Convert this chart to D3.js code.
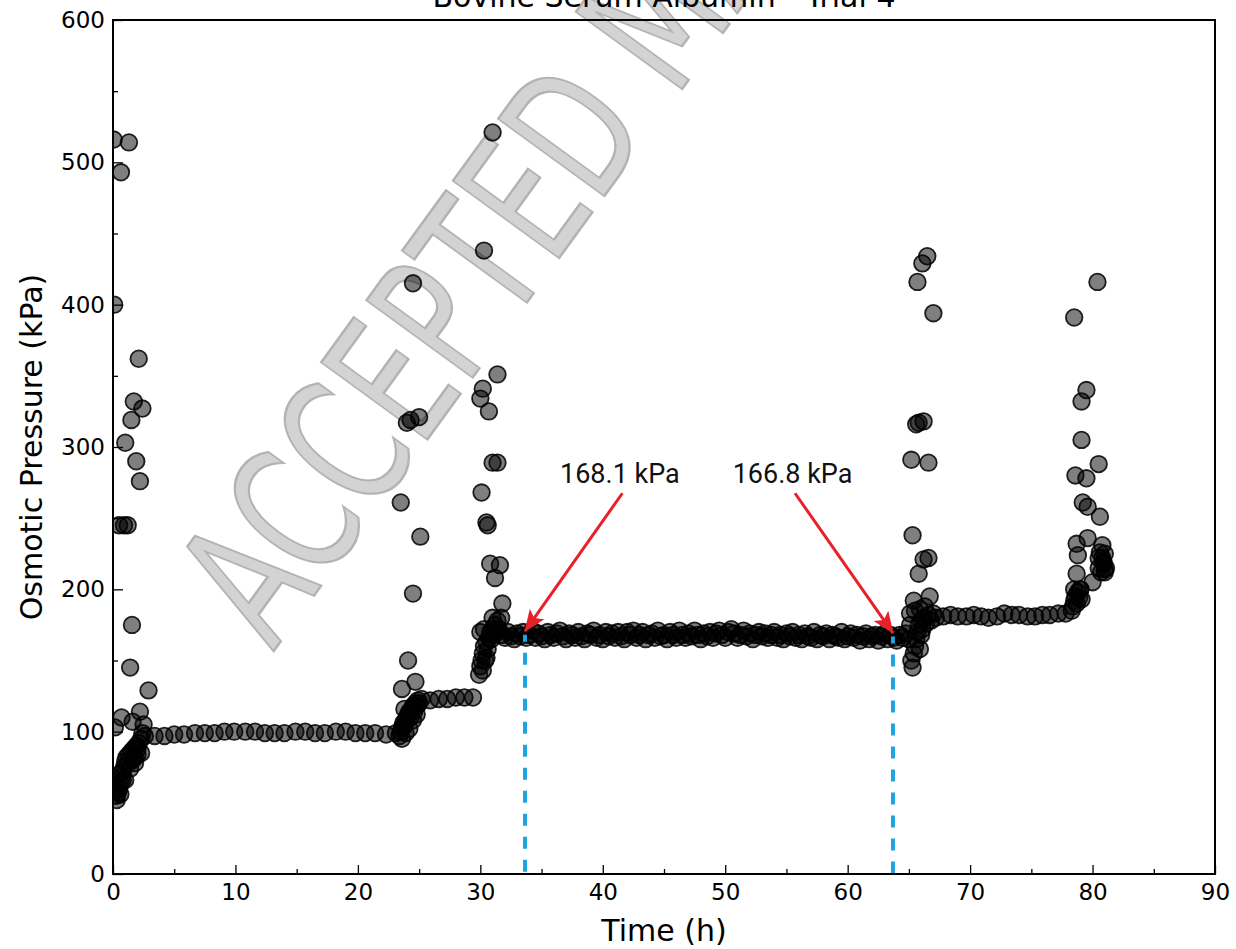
<!DOCTYPE html>
<html>
<head>
<meta charset="utf-8">
<script src="https://cdn.jsdelivr.net/npm/d3@7"></script>
<style>
  html, body { margin: 0; padding: 0; background: #fff; }
  svg { display: block; }
</style>
</head>
<body>
<svg id="chart" width="1236" height="949"></svg>
<script>
// ---------------- DATA ----------------
const chartTitle = "Bovine Serum Albumin - Trial 4";
const xLabel = "Time (h)";
const yLabel = "Osmotic Pressure (kPa)";
const xTicks = [0, 10, 20, 30, 40, 50, 60, 70, 80, 90];
const xMinorTicks = [5, 15, 25, 35, 45, 55, 65, 75, 85];
const yTicks = [0, 100, 200, 300, 400, 500, 600];
const yMinorTicks = [50, 150, 250, 350, 450, 550];

// phase 1: start-up transient (0-3 h)
const startTime = [0.05, 1.3, 0.65, 0.1, 2.1, 1.7, 2.4, 1.5, 1.0, 1.9, 2.2, 0.5, 0.9, 1.2, 1.55, 1.4, 2.9, 0.15, 0.7, 1.6, 2.2, 2.5,
  0.2, 0.3, 0.4, 0.5, 0.6, 0.7, 0.8, 0.9, 1.0, 1.1, 1.3, 1.5, 1.7, 1.9, 2.0, 2.1, 2.3, 0.5, 0.8, 1.2, 1.6, 2.0, 2.3, 2.6, 1.8, 2.4,
  0.3, 0.6, 1.0, 1.4, 1.8];
const startPressure = [516, 514, 493, 400, 362, 332, 327, 319, 303, 290, 276, 245, 245, 245, 175, 145, 129, 103, 110, 107, 114, 105,
  58, 55, 57, 60, 64, 68, 72, 75, 79, 82, 84, 86, 88, 90, 84, 92, 95, 70, 66, 78, 80, 88, 85, 97, 82, 99,
  52, 56, 66, 74, 78];

// plateau 1 (~100 kPa)
const plateau1Time = [3.4, 4.2, 5.0, 5.8, 6.7, 7.5, 8.3, 9.1, 9.9, 10.8, 11.6, 12.4, 13.2, 14.0, 14.9, 15.7, 16.5, 17.3, 18.2, 19.0, 19.8, 20.6, 21.4, 22.3, 23.1];
const plateau1Pressure = [97, 97, 98, 98, 99, 99, 99, 100, 100, 100, 100, 99, 99, 99, 100, 100, 99, 99, 100, 100, 99, 99, 99, 98, 99];

// step 1 (23-25 h)
const step1Time = [23.5, 24.3, 24.0, 25.0, 24.5, 24.5, 25.1, 24.1, 24.7, 23.6, 23.8,
  23.4, 23.5, 23.6, 23.7, 23.8, 23.9, 24.0, 24.1, 24.2, 24.3, 24.4, 24.5, 24.6, 24.7, 24.8, 24.9, 25.0, 23.6, 23.9, 24.2, 24.5, 24.8, 25.2];
const step1Pressure = [261, 319, 317, 321, 415, 197, 237, 150, 135, 130, 116,
  97, 100, 103, 106, 104, 108, 110, 112, 114, 110, 116, 118, 114, 120, 118, 122, 120, 95, 99, 102, 108, 112, 123];

// plateau 2 (~124 kPa)
const plateau2Time = [25.9, 26.6, 27.3, 28.0, 28.7, 29.4];
const plateau2Pressure = [122, 123, 123, 124, 124, 124];

// step 2 (30-32 h)
const step2Time = [31.0, 30.3, 31.4, 30.2, 30.0, 30.7, 31.4, 31.0, 30.1, 30.5, 30.6, 30.8, 31.6, 31.2, 31.8, 31.7,
  29.9, 30.0, 30.1, 30.2, 30.3, 30.4, 30.5, 30.6, 30.7, 30.8, 30.9, 31.0, 31.1, 31.2, 31.3, 31.4, 31.5, 30.2, 30.5, 30.0, 30.3, 31.0];
const step2Pressure = [521, 438, 351, 341, 334, 325, 289, 289, 268, 247, 245, 218, 217, 208, 190, 180,
  140, 146, 150, 155, 160, 150, 163, 158, 166, 170, 165, 172, 168, 175, 170, 178, 172, 143, 152, 170, 172, 180];

// plateau 3 (main, ~168 kPa)
const plateau3Time = [
  31.5, 31.75, 32, 32.25, 32.5, 32.75, 33, 33.25, 33.5, 33.75,
  34, 34.25, 34.5, 34.75, 35, 35.25, 35.5, 35.75, 36, 36.25,
  36.5, 36.75, 37, 37.25, 37.5, 37.75, 38, 38.25, 38.5, 38.75,
  39, 39.25, 39.5, 39.75, 40, 40.25, 40.5, 40.75, 41, 41.25,
  41.5, 41.75, 42, 42.25, 42.5, 42.75, 43, 43.25, 43.5, 43.75,
  44, 44.25, 44.5, 44.75, 45, 45.25, 45.5, 45.75, 46, 46.25,
  46.5, 46.75, 47, 47.25, 47.5, 47.75, 48, 48.25, 48.5, 48.75,
  49, 49.25, 49.5, 49.75, 50, 50.25, 50.5, 50.75, 51, 51.25,
  51.5, 51.75, 52, 52.25, 52.5, 52.75, 53, 53.25, 53.5, 53.75,
  54, 54.25, 54.5, 54.75, 55, 55.25, 55.5, 55.75, 56, 56.25,
  56.5, 56.75, 57, 57.25, 57.5, 57.75, 58, 58.25, 58.5, 58.75,
  59, 59.25, 59.5, 59.75, 60, 60.25, 60.5, 60.75, 61, 61.25,
  61.5, 61.75, 62, 62.25, 62.5, 62.75, 63, 63.25, 63.5, 63.75,
  64, 64.25, 64.5, 64.75, 65];
const plateau3Pressure = [
  171, 168, 166, 170, 167, 165, 169, 167, 170, 166,
  168, 171, 166, 169, 167, 165, 170, 168, 166, 169,
  171, 167, 165, 169, 168, 166, 170, 167, 165, 169,
  168, 171, 166, 168, 165, 170, 167, 169, 166, 170,
  167, 165, 170, 168, 171, 166, 168, 170, 165, 168,
  169, 166, 171, 167, 168, 165, 170, 168, 166, 171,
  168, 166, 169, 167, 171, 168, 165, 169, 167, 170,
  166, 169, 171, 168, 166, 170, 172, 169, 166, 168,
  171, 167, 169, 165, 168, 170, 167, 169, 166, 168,
  170, 166, 168, 165, 169, 167, 170, 166, 168, 165,
  169, 167, 166, 170, 165, 168, 167, 169, 165, 168,
  167, 166, 170, 165, 167, 169, 166, 168, 164, 167,
  169, 165, 167, 168, 164, 167, 169, 165, 168, 166,
  164, 168, 166, 169, 165];

// step 3 (65-68 h)
const step3Time = [66.5, 66.1, 65.7, 67.0, 65.8, 66.2, 65.6, 65.2, 66.6, 65.3, 66.6, 66.2, 65.8, 65.4, 66.7, 65.1,
  65.3, 65.2, 65.4, 65.5, 65.6, 65.7, 65.8, 66.0, 66.2, 66.4, 66.6, 66.8, 67.0, 67.2, 65.1, 65.5, 65.9, 66.3, 66.0, 65.9, 66.1];
const step3Pressure = [434, 429, 416, 394, 317, 318, 316, 291, 289, 238, 222, 221, 211, 192, 195, 183,
  145, 150, 155, 160, 165, 170, 175, 178, 180, 176, 182, 178, 183, 180, 175, 185, 186, 188, 168, 158, 172];

// plateau 4 (~181 kPa)
const plateau4Time = [67.8, 68.4, 69.0, 69.7, 70.3, 70.9, 71.5, 72.2, 72.8, 73.4, 74.0, 74.7, 75.3, 75.9, 76.5, 77.2, 77.8];
const plateau4Pressure = [181, 182, 181, 181, 182, 181, 180, 181, 183, 182, 182, 181, 181, 182, 182, 183, 183];

// step 4 (78-81 h)
const step4Time = [80.4, 78.5, 79.5, 79.1, 79.1, 80.5, 78.6, 79.5, 79.2, 79.6, 80.6, 78.7, 79.6, 80.8, 78.8, 80.9, 81.0, 80.5, 78.7, 79.0, 79.1, 80.0,
  78.3, 78.4, 78.5, 78.6, 78.7, 78.8, 78.9, 79.0, 78.5, 80.5, 80.7, 80.9, 81.0, 81.1, 80.8, 81.0, 80.6];
const step4Pressure = [416, 391, 340, 332, 305, 288, 280, 278, 261, 258, 251, 232, 236, 231, 224, 219, 214, 222, 211, 200, 193, 205,
  185, 188, 192, 195, 190, 198, 194, 200, 200, 215, 212, 218, 212, 215, 222, 225, 226];

// annotations
const annotTime = [33.65, 63.7];
const annotPressure = [168.1, 166.8];
const annotLabels = ["168.1 kPa", "166.8 kPa"];

// ---------------- CHART ----------------
const svg = d3.select("#chart");
const W = 1236, H = 949;
const M = { left: 113, right: 1215, top: 20, bottom: 874 };
const x = d3.scaleLinear().domain([0, 90]).range([M.left, M.right]);
const y = d3.scaleLinear().domain([0, 600]).range([M.bottom, M.top]);

svg.append("rect").attr("width", W).attr("height", H).attr("fill", "#fff");

// watermark
const wm = svg.append("g")
  .attr("transform", "translate(273,652) rotate(-54) scale(0.675,1)");
wm.append("text")
  .attr("x", 0).attr("y", 0)
  .attr("font-family", "DejaVu Sans")
  .attr("font-size", 180)
  .attr("fill", "#d3d3d3")
  .attr("stroke", "#b3b3b3")
  .attr("stroke-width", 2.5)
  .text("ACCEPTED MANUSCRIPT");

// clip
svg.append("clipPath").attr("id", "plotClip")
  .append("rect").attr("x", M.left).attr("y", M.top)
  .attr("width", M.right - M.left).attr("height", M.bottom - M.top);

const series = [
  [startTime, startPressure],
  [plateau1Time, plateau1Pressure],
  [step1Time, step1Pressure],
  [plateau2Time, plateau2Pressure],
  [step2Time, step2Pressure],
  [plateau3Time, plateau3Pressure],
  [step3Time, step3Pressure],
  [plateau4Time, plateau4Pressure],
  [step4Time, step4Pressure]
];
const points = [];
series.forEach(([ts, ps]) => ts.forEach((t, i) => points.push({ t, p: ps[i] })));

svg.append("g").attr("clip-path", "url(#plotClip)")
  .selectAll("circle").data(points).join("circle")
  .attr("cx", d => x(d.t))
  .attr("cy", d => y(d.p))
  .attr("r", 8.3)
  .attr("fill", "#000")
  .attr("fill-opacity", 0.5)
  .attr("stroke", "#000")
  .attr("stroke-opacity", 0.85)
  .attr("stroke-width", 1.8);

// dashed reference lines
svg.append("g").selectAll("line").data(annotTime).join("line")
  .attr("x1", d => x(d)).attr("x2", d => x(d))
  .attr("y1", (d, i) => y(annotPressure[i]))
  .attr("y2", y(0))
  .attr("stroke", "#1ea4e0")
  .attr("stroke-width", 4)
  .attr("stroke-dasharray", "12 11")
  .attr("stroke-dashoffset", 5);

// axes
const gx = svg.append("g").attr("transform", `translate(0,${M.bottom})`)
  .call(d3.axisBottom(x).tickValues(xTicks).tickSize(-9).tickPadding(10).tickFormat(d3.format("d")));
const gxm = svg.append("g").attr("transform", `translate(0,${M.bottom})`)
  .call(d3.axisBottom(x).tickValues(xMinorTicks).tickSize(-5).tickFormat(""));
const gy = svg.append("g").attr("transform", `translate(${M.left},0)`)
  .call(d3.axisLeft(y).tickValues(yTicks).tickSize(-10).tickPadding(8).tickFormat(d3.format("d")));
const gym = svg.append("g").attr("transform", `translate(${M.left},0)`)
  .call(d3.axisLeft(y).tickValues(yMinorTicks).tickSize(-5).tickFormat(""));
[gx, gxm, gy, gym].forEach(g => {
  g.select(".domain").remove();
  g.selectAll("line").attr("stroke", "#000").attr("stroke-width", 1.3);
  g.selectAll("text").attr("font-family", "DejaVu Sans").attr("font-size", 23).attr("fill", "#000");
});
gx.selectAll("text").attr("dy", "0.71em");

// frame
svg.append("rect")
  .attr("x", M.left).attr("y", M.top)
  .attr("width", M.right - M.left).attr("height", M.bottom - M.top)
  .attr("fill", "none").attr("stroke", "#000").attr("stroke-width", 2);

// title & labels
svg.append("text").attr("x", (M.left + M.right) / 2).attr("y", 7)
  .attr("text-anchor", "middle").attr("font-family", "DejaVu Sans").attr("font-size", 30)
  .text(chartTitle);
svg.append("text").attr("x", (M.left + M.right) / 2).attr("y", 941)
  .attr("text-anchor", "middle").attr("font-family", "DejaVu Sans").attr("font-size", 30)
  .text(xLabel);
svg.append("text")
  .attr("transform", `translate(42,${(M.top + M.bottom) / 2}) rotate(-90)`)
  .attr("text-anchor", "middle").attr("font-family", "DejaVu Sans").attr("font-size", 30)
  .text(yLabel);

// annotations: arrows + labels
const defs = svg.append("defs");
defs.append("marker").attr("id", "arrowHead")
  .attr("markerUnits", "userSpaceOnUse")
  .attr("viewBox", "0 0 22 18").attr("refX", 21).attr("refY", 9)
  .attr("markerWidth", 22).attr("markerHeight", 18)
  .attr("orient", "auto")
  .append("path").attr("d", "M0,0 L22,9 L0,18 L5,9 Z").attr("fill", "#e8202a");

const labelTime = [41.4, 55.5];       // label centre positions (layout)
const labelValue = [275, 275];
const arrowStartTime = [41.6, 55.7];
const arrowStartValue = [267.5, 267.5];
const tipLift = 2.5;                  // arrow tips rest on top of the marker band

svg.append("g").selectAll("line").data(annotTime).join("line")
  .attr("x1", (d, i) => x(arrowStartTime[i]))
  .attr("y1", (d, i) => y(arrowStartValue[i]))
  .attr("x2", d => x(d))
  .attr("y2", (d, i) => y(annotPressure[i] + tipLift))
  .attr("stroke", "#e8202a").attr("stroke-width", 3)
  .attr("marker-end", "url(#arrowHead)");

svg.append("g").selectAll("text").data(annotLabels).join("text")
  .attr("x", (d, i) => x(labelTime[i]))
  .attr("y", (d, i) => y(labelValue[i]))
  .attr("text-anchor", "middle")
  .attr("font-family", "Roboto")
  .attr("font-size", 27)
  .attr("fill", "#111")
  .text(d => d);
</script>
</body>
</html>
